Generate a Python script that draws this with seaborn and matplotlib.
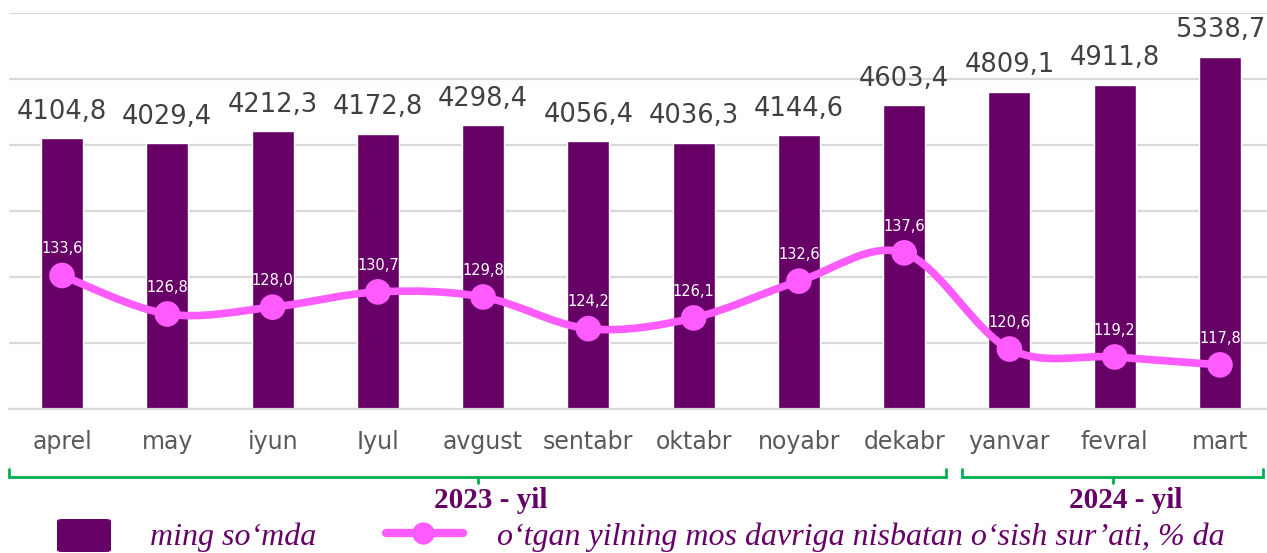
import numpy as np
import pandas as pd
import matplotlib
matplotlib.use("Agg")
import matplotlib.pyplot as plt
from matplotlib.path import Path
from matplotlib.patches import PathPatch, FancyBboxPatch
from matplotlib.lines import Line2D
import seaborn as sns


# DATA
months = ["aprel", "may", "iyun", "Iyul", "avgust", "sentabr",
          "oktabr", "noyabr", "dekabr", "yanvar", "fevral", "mart"]
income = [4104.8, 4029.4, 4212.3, 4172.8, 4298.4, 4056.4,
          4036.3, 4144.6, 4603.4, 4809.1, 4911.8, 5338.7]
growth = [133.6, 126.8, 128.0, 130.7, 129.8, 124.2,
          126.1, 132.6, 137.6, 120.6, 119.2, 117.8]
year_labels = ["2023 - yil", "2024 - yil"]
bar_legend = "ming so‘mda"
line_legend = "o‘tgan yilning mos davriga nisbatan o‘sish sur’ati, % da"

BAR_COLOR = "#660066"
LINE_COLOR = "#FF5BFF"
GRID_COLOR = "#D9D9D9"
GREEN = "#00B050"

df = pd.DataFrame({"month": months, "income": income, "growth": growth})
df["pos"] = np.arange(len(df))


def fmt(v):
    return f"{v:.1f}".replace(".", ",")


# FIGURE
W, H = 1267, 553
sns.set_theme(style="white")
plt.rcParams["font.family"] = ["DejaVu Sans"]

fig = plt.figure(figsize=(W / 100, H / 100), dpi=100)


def fx(x):
    return x / W


def fy(y):
    return 1 - y / H


ax_left, ax_right = 9.4, 1272.6
ax_top, ax_bottom = 13, 409
ax = fig.add_axes([fx(ax_left), fy(ax_bottom),
                   (ax_right - ax_left) / W, (ax_bottom - ax_top) / H])

# Bars
sns.barplot(data=df, x="month", y="income", color=BAR_COLOR, width=0.4,
            saturation=1, ax=ax, zorder=2)
ax.set_ylim(0, 6000)
ax.set_xlim(-0.5, 11.5)
ax.set_yticks(np.arange(0, 6001, 1000))
ax.yaxis.grid(True, color=GRID_COLOR, linewidth=1.6, zorder=0)
ax.set_axisbelow(True)
ax.set_yticklabels([])
ax.tick_params(axis="y", length=0)
ax.tick_params(axis="x", length=0, pad=15, labelsize=17, labelcolor="#595959")
ax.set_xlabel("")
ax.set_ylabel("")
for s in ["top", "right", "left"]:
    ax.spines[s].set_visible(False)
ax.spines["bottom"].set_color(GRID_COLOR)
ax.spines["bottom"].set_linewidth(1.6)

for x, v in zip(df["pos"], df["income"]):
    ax.annotate(fmt(v), (x, v), xytext=(0, 14), textcoords="offset points",
                ha="center", va="baseline", fontsize=18.5, color="#404040")

# Growth line on secondary axis
ax2 = ax.twinx()
ax2.set_ylim(110, 180)
ax2.axis("off")

pts = np.column_stack([df["pos"].to_numpy(float), df["growth"].to_numpy(float)])
verts = [tuple(pts[0])]
codes = [Path.MOVETO]
n = len(pts)
for i in range(n - 1):
    p0, p1 = pts[i], pts[i + 1]
    pm = pts[i - 1] if i > 0 else p0
    pp = pts[i + 2] if i + 2 < n else p1
    c1 = p0 + (p1 - pm) / 6
    c2 = p1 - (pp - p0) / 6
    verts += [tuple(c1), tuple(c2), tuple(p1)]
    codes += [Path.CURVE4] * 3
ax2.add_patch(PathPatch(Path(verts, codes), facecolor="none",
                        edgecolor=LINE_COLOR, linewidth=5.5,
                        capstyle="round", joinstyle="round", zorder=3))

sns.scatterplot(data=df, x="pos", y="growth", color=LINE_COLOR, s=340,
                edgecolor="none", ax=ax2, zorder=4, legend=False)
ax2.set_xlim(-0.5, 11.5)
ax2.set_ylim(110, 180)

for x, v in zip(df["pos"], df["growth"]):
    ax2.annotate(fmt(v), (x, v), xytext=(0, 16), textcoords="offset points",
                 ha="center", va="baseline", fontsize=10.5, color="white",
                 zorder=5)

# Year brackets
def bracket(x0, x1, xm, y=477, up=8, down=6):
    fig.add_artist(Line2D([fx(x0), fx(x0), fx(x1), fx(x1)],
                          [fy(y - up), fy(y), fy(y), fy(y - up)],
                          color=GREEN, linewidth=2, solid_joinstyle="miter"))
    fig.add_artist(Line2D([fx(xm), fx(xm)], [fy(y), fy(y + down)],
                          color=GREEN, linewidth=2))


bracket(8.5, 946, 478)
bracket(962, 1263, 1113)

serif = ["Liberation Serif", "DejaVu Serif"]
fig.text(fx(491), fy(508), year_labels[0], ha="center", va="baseline",
         fontsize=21, fontweight="bold", color=BAR_COLOR, family=serif)
fig.text(fx(1126), fy(508), year_labels[1], ha="center", va="baseline",
         fontsize=21, fontweight="bold", color=BAR_COLOR, family=serif)

# Legend
fig.add_artist(FancyBboxPatch((fx(57), fy(552)), fx(54), 33 / H,
                              boxstyle="round,pad=0,rounding_size=0.004",
                              facecolor=BAR_COLOR, edgecolor="none"))
fig.text(fx(150), fy(545), bar_legend, ha="left", va="baseline",
         fontsize=23, style="italic", color=BAR_COLOR, family=serif)

fig.add_artist(Line2D([fx(386), fx(463)], [fy(533), fy(533)],
                      color=LINE_COLOR, linewidth=6, solid_capstyle="round"))
fig.add_artist(Line2D([fx(423)], [fy(533)], marker="o", markersize=16,
                      color=LINE_COLOR, markeredgewidth=0))
fig.text(fx(497), fy(545), line_legend, ha="left", va="baseline",
         fontsize=23, style="italic", color=BAR_COLOR, family=serif)

fig.savefig("out.png", dpi=100)
